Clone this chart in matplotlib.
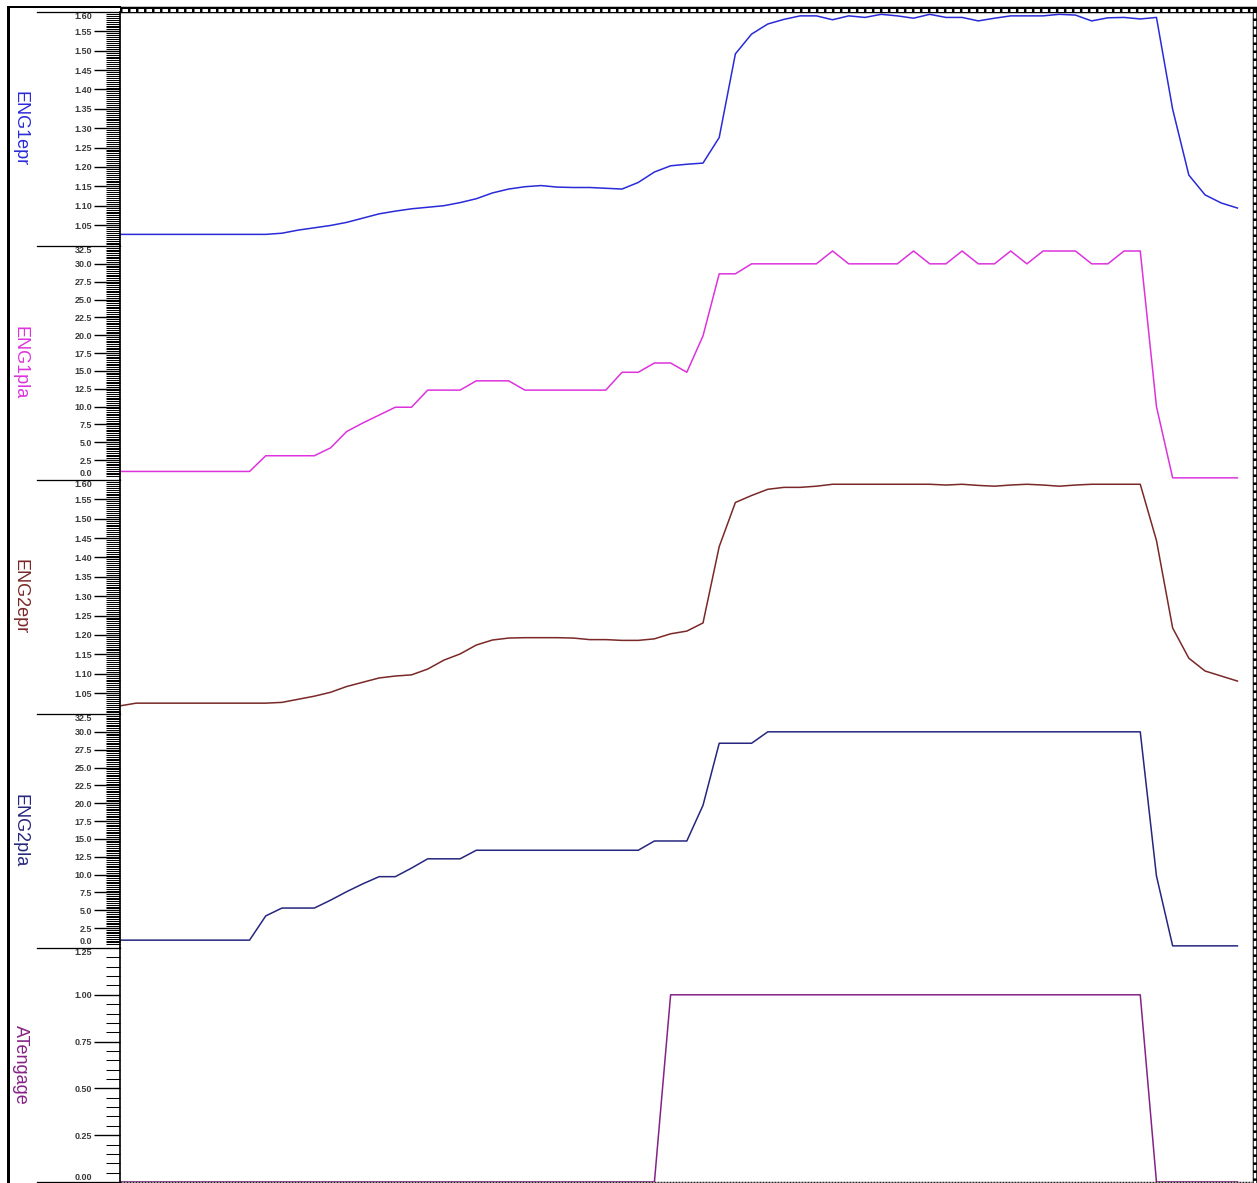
import numpy as np
import matplotlib.pyplot as plt
from matplotlib.ticker import MultipleLocator, FixedLocator, FormatStrFormatter

plt.rcParams['lines.scale_dashes'] = False

W, H = 1257, 1183  # figure size in pixels (dpi 100)

# one value per recorded frame
samples = np.arange(70)

eng1_epr = [1.026] * 10 + [
    1.029, 1.037, 1.043, 1.049, 1.057, 1.068, 1.079, 1.086, 1.092, 1.096,
    1.100, 1.108, 1.118, 1.133, 1.143, 1.149, 1.152, 1.148, 1.147, 1.147,
    1.145, 1.143, 1.160, 1.187, 1.203, 1.207, 1.210, 1.276, 1.492, 1.543,
    1.569, 1.581, 1.590, 1.590, 1.580, 1.590, 1.586, 1.594, 1.590, 1.584,
    1.594, 1.586, 1.586, 1.577, 1.584, 1.590, 1.590, 1.590, 1.594, 1.592,
    1.577, 1.585, 1.586, 1.582, 1.586, 1.349, 1.179, 1.128, 1.107, 1.094]

eng1_pla = [0.9] * 9 + [3.1] * 4 + [4.2, 6.5, 7.7, 8.8, 9.9, 9.9] + [12.3] * 3 \
    + [13.6] * 3 + [12.3] * 6 + [14.8, 14.8, 16.1, 16.1, 14.8, 19.9, 28.6, 28.6] \
    + [30.0] * 5 + [31.8, 30.0, 30.0, 30.0, 30.0, 31.8, 30.0, 30.0, 31.8, 30.0,
                    30.0, 31.8, 30.0, 31.8, 31.8, 31.8, 30.0, 30.0, 31.8, 31.8] \
    + [10.0] + [0.0] * 5

eng2_epr = [1.017] + [1.024] * 9 + [
    1.026, 1.034, 1.042, 1.052, 1.067, 1.078, 1.089, 1.094, 1.097, 1.112,
    1.135, 1.151, 1.174, 1.187, 1.192, 1.193, 1.193, 1.193, 1.192, 1.188,
    1.188, 1.186, 1.186, 1.190, 1.203, 1.210, 1.231, 1.428, 1.542, 1.560,
    1.576, 1.581, 1.581, 1.584, 1.589, 1.589, 1.589, 1.589, 1.589, 1.589,
    1.589, 1.587, 1.589, 1.586, 1.584, 1.587, 1.589, 1.587, 1.584, 1.587,
    1.589, 1.589, 1.589, 1.589, 1.444, 1.218, 1.140, 1.107, 1.094, 1.081]

eng2_pla = [0.8] * 9 + [4.2, 5.3, 5.3, 5.3, 6.4, 7.6, 8.7, 9.7, 9.7, 10.9] \
    + [12.2] * 3 + [13.4] * 11 + [14.7] * 3 + [19.7] + [28.4] * 3 \
    + [30.0] * 24 + [9.8] + [0.0] * 5

at_engage = [0] * 34 + [1] * 30 + [0] * 6

panels = [
    ("ENG1epr", eng1_epr, "#2a2ad8", (0.996, 1.6), np.arange(1.05, 1.601, 0.05), 0.005, "%.2f"),
    ("ENG1pla", eng1_pla, "#dd33dd", (-0.3, 32.5), np.arange(0, 32.6, 2.5), 0.25, "%.1f"),
    ("ENG2epr", eng2_epr, "#7a2828", (0.996, 1.6), np.arange(1.05, 1.601, 0.05), 0.005, "%.2f"),
    ("ENG2pla", eng2_pla, "#26267e", (-0.3, 32.5), np.arange(0, 32.6, 2.5), 0.25, "%.1f"),
    ("ATengage", at_engage, "#862286", (0, 1.25), np.arange(0, 1.26, 0.25), 0.05, "%.2f"),
]

fig = plt.figure(figsize=(W / 100, H / 100), dpi=100)

left, right = 120, 1252
top0, ph = 12, 234
for k, (name, vals, color, ylim, majors, minor, fmt) in enumerate(panels):
    top = top0 + k * ph
    ax = fig.add_axes([left / W, 1 - (top + ph) / H, (right - left) / W, ph / H])
    ax.plot(samples, vals, color=color, lw=1.1)
    ax.set_xlim(0, 69.9)
    ax.set_ylim(*ylim)
    ax.set_xticks([])
    for s in ("top", "right", "bottom"):
        ax.spines[s].set_visible(False)
    ax.spines["left"].set_linewidth(1.2)
    ax.yaxis.set_major_locator(FixedLocator(majors))
    ax.yaxis.set_minor_locator(MultipleLocator(minor))
    ax.yaxis.set_major_formatter(FormatStrFormatter(fmt))
    ax.tick_params(axis="y", which="major", length=19, width=1.0, pad=1,
                   labelsize=6.5, labelcolor="#3a3a3a")
    ax.tick_params(axis="y", which="minor", length=10, width=0.75)
    for lab in ax.get_yticklabels():
        lab.set_family(["Liberation Sans Narrow", "Liberation Sans"])
        lab.set_fontweight("bold")
    # tick labels at the panel edges sit inside the panel, without a long tick
    ticks = ax.yaxis.get_major_ticks()
    ticks[-1].tick1line.set_visible(False)
    ticks[-1].label1.set_verticalalignment("top")
    if abs(majors[0] - ylim[0]) < 0.5 * (majors[1] - majors[0]):
        ticks[0].tick1line.set_visible(False)
        ticks[0].label1.set_verticalalignment("bottom")
    fig.text(20 / W, 1 - (top + ph / 2) / H, name, rotation=270, ha="center",
             va="center", color=color, fontsize=13, family="Liberation Sans")

# frame and panel separators, drawn in pixel coordinates
deco = fig.add_axes([0, 0, 1, 1], zorder=5)
deco.set_xlim(0, W)
deco.set_ylim(H, 0)
deco.axis("off")
px = 1 / 1.389  # one pixel in points
for k in range(6):
    y = top0 + k * ph
    deco.plot([37, left], [y, y], color="black", lw=1.3 * px)
deco.plot([7.5, 7.5], [6.5, H], color="black", lw=3 * px)
deco.plot([7.5, left], [6.8, 6.8], color="black", lw=2 * px)
# ticked top and right borders
deco.plot([left, W], [9.8, 9.8], color="black", lw=6.5 * px, solid_capstyle="butt")
deco.plot([left + 2, W - 4], [9.8, 9.8], color="white", lw=3 * px,
          dashes=(5.5 * px, 2.5 * px))
deco.plot([1254.5, 1254.5], [6.5, H], color="black", lw=5.5 * px, solid_capstyle="butt")
deco.plot([1254.5, 1254.5], [13, H], color="white", lw=2.5 * px,
          dashes=(5.5 * px, 2.5 * px))
deco.plot([left, 1252], [1182, 1182], color="#222222", lw=1.5 * px,
          dashes=(2 * px, 1 * px))

plt.savefig("out.png", dpi=100)
